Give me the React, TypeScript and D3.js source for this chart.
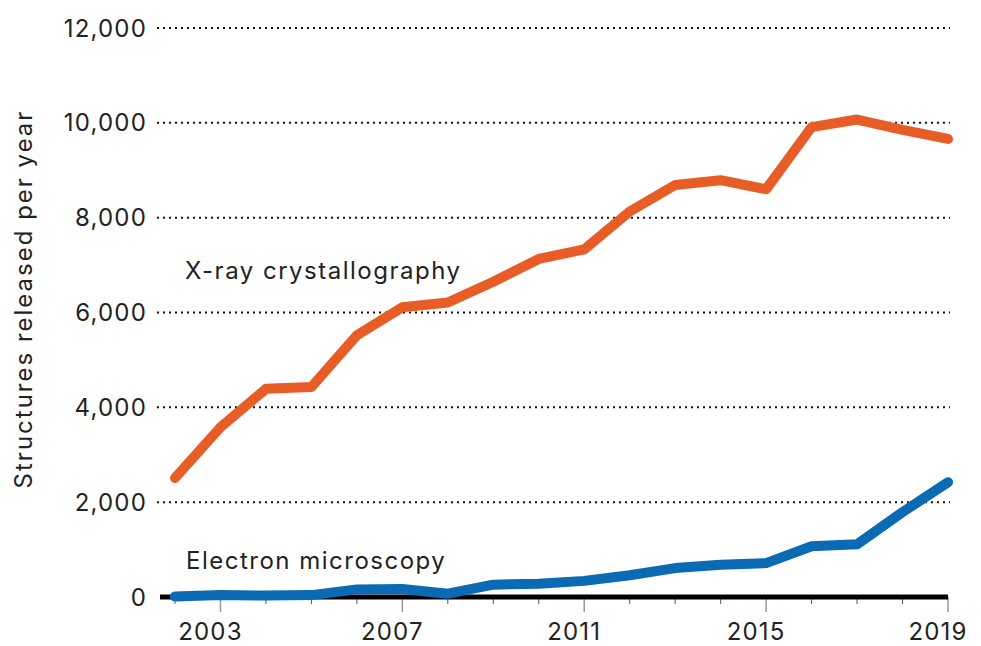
import { useEffect, useRef } from "react";
import * as d3 from "d3";

const years = [2002, 2003, 2004, 2005, 2006, 2007, 2008, 2009, 2010, 2011, 2012, 2013, 2014, 2015, 2016, 2017, 2018, 2019];
const xray = [2510, 3580, 4390, 4430, 5520, 6110, 6210, 6650, 7130, 7330, 8130, 8690, 8790, 8600, 9910, 10070, 9850, 9660];
const em = [10, 40, 30, 40, 160, 170, 70, 260, 280, 340, 460, 610, 680, 715, 1070, 1110, 1790, 2420];
const majorYears = [2003, 2007, 2011, 2015, 2019];
const yTicks = [0, 2000, 4000, 6000, 8000, 10000, 12000];

const W = 981, H = 646;
const font = "Inter, 'Noto Sans', sans-serif";
const ink = "#222";

export default function App() {
  const ref = useRef<SVGSVGElement>(null);

  useEffect(() => {
    const svg = d3.select(ref.current);
    svg.selectAll("*").remove();

    const x = d3.scaleLinear().domain([2002, 2019]).range([175, 948]);
    const y = d3.scaleLinear().domain([0, 12000]).range([597, 28]);

    // dotted gridlines
    svg.append("g")
      .selectAll("line")
      .data(yTicks.filter(d => d > 0))
      .join("line")
      .attr("x1", 157)
      .attr("x2", 950)
      .attr("y1", d => y(d))
      .attr("y2", d => y(d))
      .attr("stroke", "#111")
      .attr("stroke-width", 2)
      .attr("stroke-dasharray", "2,4");

    // y labels
    svg.append("g")
      .selectAll("text")
      .data(yTicks)
      .join("text")
      .attr("x", 147)
      .attr("y", d => y(d))
      .attr("dy", "0.36em")
      .attr("text-anchor", "end")
      .attr("font-family", font)
      .attr("font-size", 24)
      .attr("letter-spacing", 1.2)
      .attr("fill", ink)
      .text(d => d3.format(",")(d));

    // y title
    svg.append("text")
      .attr("transform", `translate(32, 299) rotate(-90)`)
      .attr("text-anchor", "middle")
      .attr("font-family", font)
      .attr("font-size", 24)
      .attr("letter-spacing", 2)
      .attr("fill", ink)
      .text("Structures released per year");

    // x ticks
    svg.append("g")
      .selectAll("line")
      .data(years.filter(d => !majorYears.includes(d)))
      .join("line")
      .attr("x1", d => x(d))
      .attr("x2", d => x(d))
      .attr("y1", y(0))
      .attr("y2", y(0) + 7)
      .attr("stroke", "#555")
      .attr("stroke-width", 1);

    svg.append("g")
      .selectAll("line")
      .data(majorYears)
      .join("line")
      .attr("x1", d => x(d))
      .attr("x2", d => x(d))
      .attr("y1", y(0))
      .attr("y2", y(0) + 15)
      .attr("stroke", "#999")
      .attr("stroke-width", 1.5);

    svg.append("g")
      .selectAll("text")
      .data(majorYears)
      .join("text")
      .attr("x", d => x(d) - 10)
      .attr("y", 640)
      .attr("text-anchor", "middle")
      .attr("font-family", font)
      .attr("font-size", 24)
      .attr("letter-spacing", 1.2)
      .attr("fill", ink)
      .text(d => String(d));

    // baseline
    svg.append("line")
      .attr("x1", 160)
      .attr("x2", 948)
      .attr("y1", y(0))
      .attr("y2", y(0))
      .attr("stroke", "#000")
      .attr("stroke-width", 5);

    const line = d3.line<number>()
      .x((_, i) => x(years[i]))
      .y(d => y(d));

    svg.append("path")
      .attr("d", line(xray))
      .attr("fill", "none")
      .attr("stroke", "#e85d25")
      .attr("stroke-width", 10)
      .attr("stroke-linejoin", "round")
      .attr("stroke-linecap", "round");

    svg.append("path")
      .attr("d", line(em))
      .attr("fill", "none")
      .attr("stroke", "#0a6ab3")
      .attr("stroke-width", 10)
      .attr("stroke-linejoin", "round")
      .attr("stroke-linecap", "round");

    // series labels
    svg.append("text")
      .attr("x", 185)
      .attr("y", 279)
      .attr("font-family", font)
      .attr("font-size", 24)
      .attr("letter-spacing", 1.5)
      .attr("fill", ink)
      .text("X-ray crystallography");

    svg.append("text")
      .attr("x", 186)
      .attr("y", 569)
      .attr("font-family", font)
      .attr("font-size", 24)
      .attr("letter-spacing", 1.5)
      .attr("fill", ink)
      .text("Electron microscopy");
  }, []);

  return (
    <svg ref={ref} width={W} height={H}
      style={{ position: "absolute", left: 0, top: 0, background: "#fff" }} />
  );
}
